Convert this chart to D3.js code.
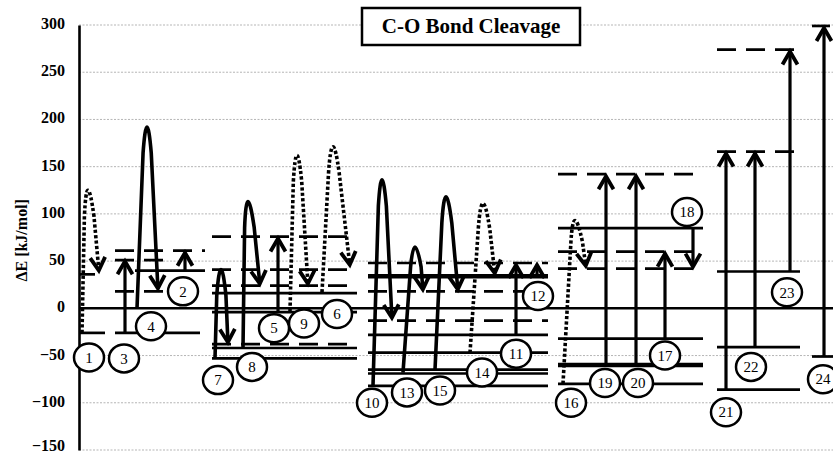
<!DOCTYPE html>
<html>
<head>
<meta charset="utf-8">
<script src="https://cdn.jsdelivr.net/npm/d3@7"></script>
<style>
  html, body { margin: 0; padding: 0; background: #fff; }
  svg { display: block; }
</style>
</head>
<body>
<svg id="chart" width="833" height="455"></svg>
<script>
// ---------- DATA ----------
// y-axis ticks (kJ/mol)
const yTicks = [-150, -100, -50, 0, 50, 100, 150, 200, 250, 300];
const titleText = "C-O Bond Cleavage";
const yLabel = "ΔE [kJ/mol]";

// energy levels: [xStart, xEnd, energy, kind]  kind: "min" (solid) | "ts" (dashed) | "minB" (bold solid)
const levels = [
  // group 1
  [1, 16, 36, "min"], [1, 26, -26, "min"],
  [36, 126, 61, "ts"], [36, 86, 51, "ts"], [56, 126, 40, "min"],
  [36, 86, 18, "ts"], [36, 121, -26, "min"],
  // group 2
  [133, 268, 76, "ts"], [133, 268, 41, "ts"], [133, 268, 24, "ts"],
  [133, 278, 16, "min"], [133, 278, -4, "min"], [133, 268, -38, "ts"],
  [133, 278, -42, "min"], [133, 278, -53, "min"],
  // group 3
  [289, 469, 48, "ts"], [289, 469, 34, "minB"], [289, 469, 18, "ts"],
  [289, 469, -13, "ts"], [289, 469, -28, "min"], [289, 469, -47, "min"],
  [289, 469, -65, "min"], [289, 469, -69, "min"], [289, 469, -82, "min"],
  // group 4
  [479, 616, 142, "ts"], [479, 624, 85, "min"], [479, 616, 60, "ts"],
  [479, 616, 42, "ts"], [479, 624, -32, "min"], [479, 624, -60, "minB"],
  [479, 624, -80, "min"],
  // group 5
  [638, 721, 274, "ts"], [733, 751, 299, "min"], [638, 721, 166, "ts"],
  [638, 721, 39, "min"], [638, 721, -41, "min"], [638, 721, -86, "min"],
  [733, 754, -51, "min"]
];

// reference (zero) level across the whole chart: [xStart, xEnd, energy]
const zeroLevel = [0, 754, 0];

// straight vertical arrows: [x, fromEnergy, toEnergy]
const arrows = [
  [46, -26, 52], [106, 40, 61],
  [199, -4, 76],
  [437, -28, 48], [458, 34, 48],
  [527, -60, 142], [557, -60, 142], [586, -32, 60], [614, 85, 42],
  [647, -86, 166], [676, -41, 166], [711, 39, 274], [745, -51, 299]
];

// barrier curves: [xStart, eStart, xPeak, ePeak, xEnd, eEnd, kind] kind: "solid" | "dotted"
const barriers = [
  [3, -26, 9, 125, 20, 38, "dotted"],
  [58, 0, 68, 192, 79, 19, "solid"],
  [136, -53, 142, 41, 149, -38, "solid"],
  [164, -42, 169, 113, 181, 24, "solid"],
  [211, -3, 218, 162, 229, 24, "dotted"],
  [243, 17, 254, 171, 271, 44, "dotted"],
  [294, -82, 303, 136, 313, -12, "solid"],
  [324, -68, 336, 65, 344, 18, "solid"],
  [356, -65, 367, 118, 379, 18, "solid"],
  [391, -47, 404, 111, 416, 35, "dotted"],
  [484, -80, 496, 93, 507, 43, "dotted"]
];

// step labels: [x, energy, label]
const stepLabels = [
  [10, -52, "1"], [45, -53, "3"], [72, -19, "4"], [104, 18, "2"],
  [139, -76, "7"], [173, -62, "8"], [195, -21, "5"], [225, -16, "9"], [258, -6, "6"],
  [293, -100, "10"], [328, -89, "13"], [361, -87, "15"], [403, -68, "14"],
  [437, -48, "11"], [459, 13, "12"],
  [492, -100, "16"], [526, -79, "19"], [559, -79, "20"], [586, -50, "17"], [608, 102, "18"],
  [647, -110, "21"], [672, -62, "22"], [708, 17, "23"], [744, -75, "24"]
];

// ---------- DRAWING ----------
const svg = d3.select("#chart");
const W = 833, H = 455;
const x = d3.scaleLinear().domain([0, 754]).range([79, 833]);
const y = d3.scaleLinear().domain([-150, 300]).range([450, 25]);
const serif = "Liberation Serif, Times New Roman, serif";

svg.append("defs").append("clipPath").attr("id", "plotclip")
  .append("rect").attr("x", 0).attr("y", 0).attr("width", W).attr("height", H);

// gridlines
svg.append("g").selectAll("line").data(yTicks.filter(d => d !== 0)).join("line")
  .attr("x1", x(0)).attr("x2", x(754))
  .attr("y1", d => y(d)).attr("y2", d => y(d))
  .attr("stroke", "#b5b5b5").attr("stroke-width", 1).attr("stroke-dasharray", "2,1.5");

// y axis
const yAxis = svg.append("g").attr("transform", `translate(${x(0)},0)`)
  .call(d3.axisLeft(y).tickValues(yTicks).tickSize(0).tickSizeOuter(0).tickPadding(14));
yAxis.select(".domain").attr("stroke", "#000").attr("stroke-width", 2.6);
yAxis.selectAll("text").attr("font-family", serif).attr("font-weight", "bold")
  .attr("font-size", 16).attr("fill", "#000")
  .attr("dy", d => d === yTicks[0] ? "0.02em" : "0.22em");

svg.append("text")
  .attr("transform", `translate(27,${y(72)}) rotate(-90)`)
  .attr("text-anchor", "middle")
  .attr("font-family", serif).attr("font-weight", "bold").attr("font-size", 16)
  .text(yLabel);

const plot = svg.append("g").attr("clip-path", "url(#plotclip)");

// zero level
plot.append("line")
  .attr("x1", x(zeroLevel[0])).attr("x2", x(zeroLevel[1]))
  .attr("y1", y(zeroLevel[2])).attr("y2", y(zeroLevel[2]))
  .attr("stroke", "#000").attr("stroke-width", 2.5);

// energy levels
plot.append("g").selectAll("line").data(levels).join("line")
  .attr("x1", d => x(d[0])).attr("x2", d => x(d[1]))
  .attr("y1", d => y(d[2])).attr("y2", d => y(d[2]))
  .attr("stroke", "#000")
  .attr("stroke-width", d => d[3] === "minB" ? 4.5 : 2.7)
  .attr("stroke-dasharray", d => d[3] === "ts" ? "19,10" : null);

function chevron(tx, ty, ux, uy) {
  const h = 13, w = 7.5;
  const nx = -uy, ny = ux;
  const bx = tx - ux * 2, by = ty - uy * 2;
  return `M${bx - ux * h + nx * w},${by - uy * h + ny * w}L${bx},${by}L${bx - ux * h - nx * w},${by - uy * h - ny * w}`;
}

// vertical arrows
const ag = plot.append("g");
arrows.forEach(a => {
  const px = x(a[0]), y0 = y(a[1]), y1 = y(a[2]);
  const dir = y1 < y0 ? -1 : 1;
  ag.append("line").attr("x1", px).attr("x2", px)
    .attr("y1", y0).attr("y2", y1 - dir * 3)
    .attr("stroke", "#000").attr("stroke-width", 3.2);
  ag.append("path").attr("d", chevron(px, y1, 0, dir))
    .attr("fill", "none").attr("stroke", "#000").attr("stroke-width", 3.8)
    .attr("stroke-linejoin", "miter");
});

// barrier curves
const cg = plot.append("g");
barriers.forEach(b => {
  const S = [x(b[0]), y(b[1])], P = [x(b[2]), y(b[3])], E = [x(b[4]), y(b[5])];
  const dl = Math.hypot(P[0] - S[0], P[1] - S[1]);
  const dr = Math.hypot(E[0] - P[0], E[1] - P[1]);
  const r = Math.min(26, 0.45 * Math.min(dl, dr));
  const A = [P[0] + (S[0] - P[0]) * r / dl, P[1] + (S[1] - P[1]) * r / dl];
  const B = [P[0] + (E[0] - P[0]) * r / dr, P[1] + (E[1] - P[1]) * r / dr];
  A[0] -= 2.5; B[0] += 2.5;
  const C = [2 * P[0] - 0.5 * (A[0] + B[0]), 2 * P[1] - 0.5 * (A[1] + B[1])];
  const len = Math.hypot(E[0] - B[0], E[1] - B[1]);
  const ux = (E[0] - B[0]) / len, uy = (E[1] - B[1]) / len;
  const Ee = [E[0] - ux * 3, E[1] - uy * 3];
  const d = `M${S[0]},${S[1]}L${A[0]},${A[1]}Q${C[0]},${C[1]} ${B[0]},${B[1]}L${Ee[0]},${Ee[1]}`;
  const dotted = b[6] === "dotted";
  cg.append("path").attr("d", d).attr("fill", "none").attr("stroke", "#000")
    .attr("stroke-width", 3.6)
    .attr("stroke-dasharray", dotted ? "3.2,2.2" : null);
  cg.append("path").attr("d", chevron(E[0], E[1], ux, uy))
    .attr("fill", "none").attr("stroke", "#000").attr("stroke-width", 3.8)
    .attr("stroke-linejoin", "miter");
});

// step labels
const lg = plot.append("g").selectAll("g").data(stepLabels).join("g")
  .attr("transform", d => `translate(${x(d[0])},${y(d[1])})`);
lg.append("ellipse").attr("rx", 15).attr("ry", 14)
  .attr("fill", "#fff").attr("stroke", "#000").attr("stroke-width", 2.5);
lg.append("text").attr("text-anchor", "middle").attr("dy", "0.35em")
  .attr("font-family", serif).attr("font-size", 15).text(d => d[2]);

// title box
const tg = svg.append("g");
tg.append("rect").attr("x", 362).attr("y", 8).attr("width", 218).attr("height", 37)
  .attr("fill", "#fff").attr("stroke", "#000").attr("stroke-width", 2.5);
tg.append("text").attr("x", 471).attr("y", 33).attr("text-anchor", "middle")
  .attr("font-family", serif).attr("font-weight", "bold").attr("font-size", 21)
  .text(titleText);
</script>
</body>
</html>
